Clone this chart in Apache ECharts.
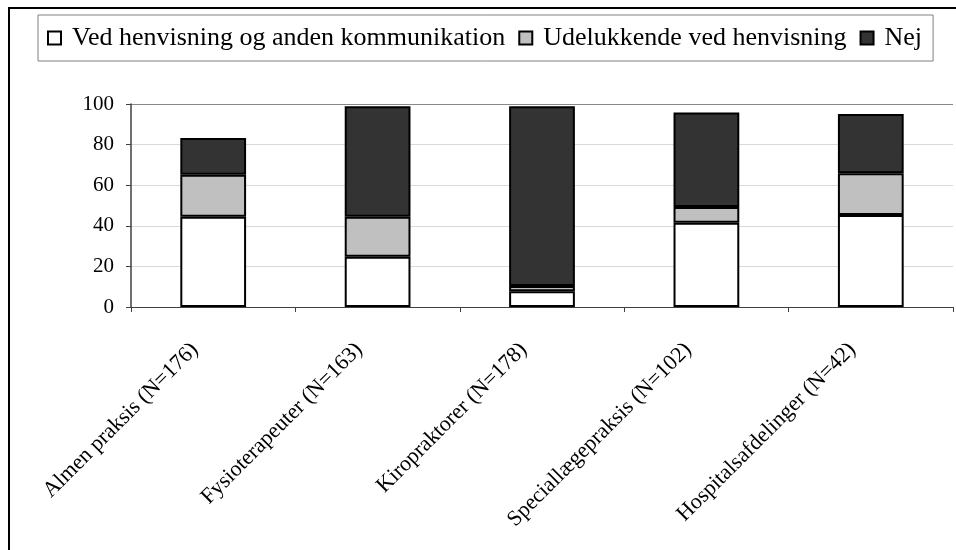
<!DOCTYPE html>
<html>
<head>
<meta charset="utf-8">
<script src="https://cdn.jsdelivr.net/npm/echarts@6/dist/echarts.min.js"></script>
<style>
  html, body { margin: 0; padding: 0; background: #fff; }
  #chart { width: 956px; height: 550px; }
</style>
</head>
<body>
<div id="chart"></div>
<script>
const categories = ['Almen praksis (N=176)', 'Fysioterapeuter (N=163)', 'Kiropraktorer (N=178)', 'Speciallægepraksis (N=102)', 'Hospitalsafdelinger (N=42)'];
const seriesNames = ['Ved henvisning og anden kommunikation', 'Udelukkende ved henvisning', 'Nej'];
const vedHenvisning = [44.5, 24.7, 7.8, 41.5, 45.3];
const udelukkende = [20.6, 19.8, 2.6, 7.8, 20.6];
const nej = [18.1, 54.4, 88.5, 46.5, 29.2];
const yTicks = [0, 20, 40, 60, 80, 100];

(function(){
  const font = "'Liberation Serif', 'Times New Roman', serif";
  const colors = ['#ffffff', '#c0c0c0', '#333333'];
  const values = [vedHenvisning, udelukkende, nej];
  const chart = echarts.init(document.getElementById('chart'));

  chart.setOption({
    animation: false,
    textStyle: { fontFamily: font, color: '#000' },
    graphic: [{
      type: 'rect',
      shape: { x: 9, y: 8, width: 1000, height: 1000 },
      style: { fill: 'none', stroke: '#000', lineWidth: 2 },
      silent: true
    }],
    legend: {
      data: seriesNames,
      icon: 'rect',
      left: 38,
      top: 15,
      padding: [10, 11, 10, 9],
      itemGap: 13,
      itemWidth: 13,
      itemHeight: 13,
      borderColor: '#808080',
      borderWidth: 1,
      textStyle: { fontFamily: font, fontSize: 26, color: '#000', padding: [0, 0, 0, 6] }
    },
    grid: { left: 131, right: 3, top: 104, bottom: 243, containLabel: false },
    xAxis: {
      type: 'category',
      data: categories,
      axisLine: { lineStyle: { color: '#404040', width: 1 } },
      axisTick: { show: true, length: 5, lineStyle: { color: '#404040' } },
      axisLabel: {
        rotate: 45,
        interval: 0,
        margin: 21,
        padding: [0, 26, 0, 0],
        fontFamily: font,
        fontSize: 22,
        color: '#000'
      }
    },
    yAxis: {
      type: 'value',
      min: yTicks[0],
      max: yTicks[yTicks.length - 1],
      interval: 20,
      axisLine: { show: true, lineStyle: { color: '#404040', width: 1.5 } },
      axisTick: { show: true, length: 5, lineStyle: { color: '#404040' } },
      axisLabel: { margin: 17, fontFamily: font, fontSize: 21, color: '#000' },
      splitLine: {
        show: true,
        lineStyle: { color: ['#d9d9d9', '#d9d9d9', '#d9d9d9', '#d9d9d9', '#d9d9d9', '#888888'], width: 1 }
      }
    },
    series: seriesNames.map((name, i) => ({
      name: name,
      type: 'bar',
      stack: 'total',
      barWidth: '40%',
      data: values[i],
      itemStyle: { color: colors[i], borderColor: '#000', borderWidth: 2 }
    }))
  });
})();
</script>
</body>
</html>
